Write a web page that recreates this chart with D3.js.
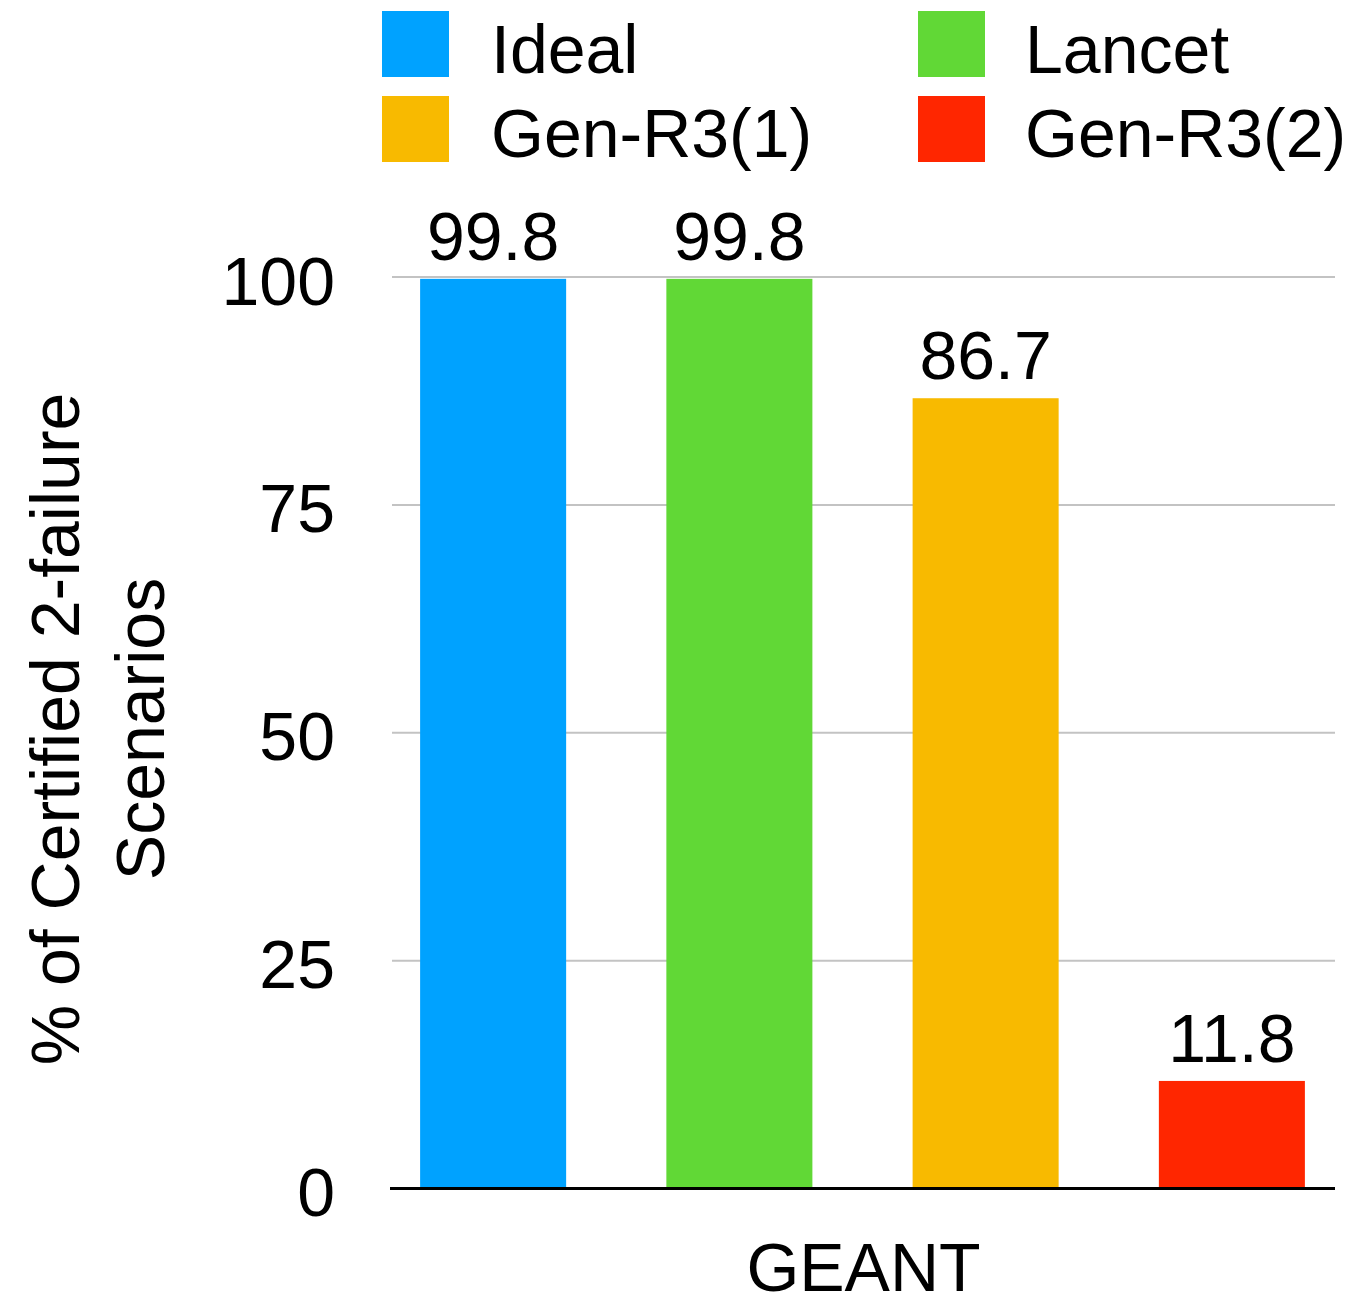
<!DOCTYPE html>
<html>
<head>
<meta charset="utf-8">
<script src="https://cdn.jsdelivr.net/npm/d3@7"></script>
<style>
  html, body { margin: 0; padding: 0; background: #fff; }
  svg { display: block; }
  text { font-family: Helvetica, "Liberation Sans", Arial, sans-serif; fill: #000; }
</style>
</head>
<body>
<svg id="chart" width="1356" height="1296"></svg>
<script>
// Data: one topology (GEANT), four schemes
const categories = ["GEANT"];
const series = ["Ideal", "Lancet", "Gen-R3(1)", "Gen-R3(2)"];
const values = [99.8, 99.8, 86.7, 11.8];
const colors = ["#00A2FF", "#61D836", "#F8BA00", "#FF2600"];
const yTicks = [0, 25, 50, 75, 100];
const yTitleLines = ["% of Certified 2-failure", "Scenarios"];

const svg = d3.select("#chart");
const FS = 68;

const plot = { left: 392, right: 1335, top: 277, bottom: 1188.5 };

const y = d3.scaleLinear().domain([0, 100]).range([plot.bottom, plot.top]);
const x = d3.scaleBand()
  .domain(series)
  .range([370, 1355])
  .paddingInner(0.407)
  .paddingOuter(0.2035);

// horizontal gridlines
svg.append("g")
  .selectAll("line")
  .data(yTicks.filter(t => t > 0))
  .join("line")
  .attr("x1", plot.left).attr("x2", plot.right)
  .attr("y1", d => y(d)).attr("y2", d => y(d))
  .attr("stroke", "#c3c3c3")
  .attr("stroke-width", 2);

// bars
svg.append("g")
  .selectAll("rect")
  .data(series.map((s, i) => ({ s, v: values[i], c: colors[i] })))
  .join("rect")
  .attr("x", d => x(d.s))
  .attr("width", x.bandwidth())
  .attr("y", d => y(d.v))
  .attr("height", d => y(0) - y(d.v))
  .attr("fill", d => d.c);

// value labels
svg.append("g")
  .selectAll("text")
  .data(series.map((s, i) => ({ s, v: values[i] })))
  .join("text")
  .attr("x", d => x(d.s) + x.bandwidth() / 2)
  .attr("y", d => y(d.v) - 19)
  .attr("text-anchor", "middle")
  .attr("font-size", FS)
  .text(d => d3.format(".1f")(d.v));

// baseline
svg.append("line")
  .attr("x1", plot.left - 2).attr("x2", plot.right)
  .attr("y1", y(0)).attr("y2", y(0))
  .attr("stroke", "#000")
  .attr("stroke-width", 3);

// y-axis tick labels
const yAxis = d3.axisLeft(y).tickValues(yTicks).tickSize(0).tickPadding(0);
const gy = svg.append("g")
  .attr("transform", `translate(335,0)`)
  .call(yAxis);
gy.select(".domain").remove();
gy.selectAll("text")
  .attr("font-size", FS)
  .attr("font-family", 'Helvetica, "Liberation Sans", Arial, sans-serif')
  .attr("fill", "#000")
  .attr("x", 0)
  .attr("dy", null)
  .attr("y", 27);

// category label
svg.append("text")
  .attr("x", (plot.left + plot.right) / 2)
  .attr("y", 1291)
  .attr("text-anchor", "middle")
  .attr("font-size", FS)
  .text(categories[0]);

// y-axis title, two rotated lines
const titleX = [79, 164];
svg.append("g")
  .selectAll("text")
  .data(yTitleLines)
  .join("text")
  .attr("transform", (d, i) => `translate(${titleX[i]},729) rotate(-90)`)
  .attr("text-anchor", "middle")
  .attr("font-size", FS)
  .text(d => d);

// legend: two columns, two rows
const legendCols = [382, 918];
const legendTextX = [491, 1025];
const legendRows = [11, 96];
const legendBase = [73, 157];
const legend = svg.append("g")
  .selectAll("g")
  .data(series.map((s, i) => ({ s, c: colors[i], col: i % 2, row: Math.floor(i / 2) })))
  .join("g");
legend.append("rect")
  .attr("x", d => legendCols[d.col])
  .attr("y", d => legendRows[d.row])
  .attr("width", 67)
  .attr("height", 66)
  .attr("fill", d => d.c);
legend.append("text")
  .attr("x", d => legendTextX[d.col])
  .attr("y", d => legendBase[d.row])
  .attr("font-size", FS)
  .text(d => d.s);
</script>
</body>
</html>
